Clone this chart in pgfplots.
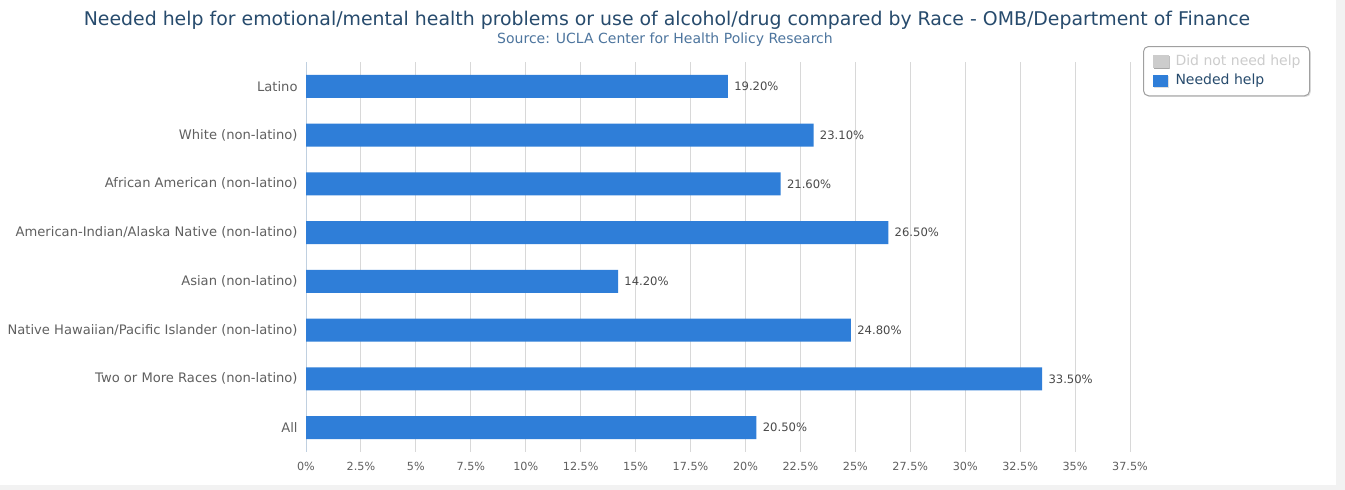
\documentclass[border=0pt]{standalone}
\usepackage{fontspec}
\setmainfont{DejaVu Sans}
\usepackage{pgfplots}
\pgfplotsset{compat=1.18}
\usetikzlibrary{shadows}
\definecolor{barblue}{HTML}{2F7ED8}
\definecolor{titlecol}{HTML}{274B6D}
\definecolor{subcol}{HTML}{4D759E}
\definecolor{labelcol}{HTML}{606060}
\definecolor{datacol}{HTML}{4A4A4A}
\definecolor{gridcol}{HTML}{D8D8D8}
\definecolor{axiscol}{HTML}{C0D0E0}
\definecolor{legcol}{HTML}{A0A0A0}
\definecolor{hiddencol}{HTML}{CCCCCC}
\definecolor{bggray}{HTML}{F2F2F2}
\begin{document}
\begin{tikzpicture}
\begin{scope}[x=0.5pt,y=-0.5pt]
\path[use as bounding box] (0,0) rectangle (1345,490);
\fill[white] (0,0) rectangle (1345,490);
\fill[bggray] (1336,0) rectangle (1345,490);
\fill[bggray] (0,485) rectangle (1345,490);
\node[font=\fontsize{9.45}{11}\selectfont, text=titlecol] at (667,20) {Needed help for emotional/mental health problems or use of alcohol/drug compared by Race - OMB/Department of Finance};
\node[font=\fontsize{7}{8}\selectfont, text=subcol] at (665,40) {Source: UCLA Center for Health Policy Research};
\end{scope}
\begin{axis}[
  at={(153pt,-226pt)}, anchor=south west,
  scale only axis, width=412pt, height=195pt,
  xbar, bar width=11.5pt,
  xmin=0, xmax=37.5, ymin=-0.5, ymax=7.5,
  y dir=reverse,
  ytick={0,...,7},
  yticklabels={Latino, White (non-latino), African American (non-latino), American-Indian/Alaska Native (non-latino), Asian (non-latino), Native Hawaiian/Pacific Islander (non-latino), Two or More Races (non-latino), All},
  ytick style={draw=none},
  extra y ticks={-0.5,0.5,1.5,2.5,3.5,4.5,5.5,6.5,7.5},
  extra y tick labels={},
  extra y tick style={major tick length=2.5pt, tick align=outside, tick style={draw=axiscol, line width=0.5pt}, grid=none},
  xtick={0,2.5,5,7.5,10,12.5,15,17.5,20,22.5,25,27.5,30,32.5,35,37.5},
  xticklabels={0\%,2.5\%,5\%,7.5\%,10\%,12.5\%,15\%,17.5\%,20\%,22.5\%,25\%,27.5\%,30\%,32.5\%,35\%,37.5\%},
  xtick style={draw=none},
  xmajorgrids, major grid style={draw=gridcol, line width=0.5pt},
  axis y line*=left, axis x line*=bottom,
  y axis line style={draw=axiscol, line width=0.5pt},
  x axis line style={draw=none},
  yticklabel style={font=\fontsize{6.55}{7}\selectfont, text=labelcol, inner sep=0pt, xshift=0.25pt},
  xticklabel style={font=\fontsize{5.6}{6}\selectfont, text=labelcol, inner sep=0pt, yshift=-5pt},
  nodes near coords={\pgfmathprintnumber[assume math mode=true,fixed,fixed zerofill,precision=2]{\pgfplotspointmeta}\%},
  nodes near coords style={font=\fontsize{5.8}{6}\selectfont, text=datacol, inner sep=0pt, xshift=3pt},
  legend style={at={(1.0158,1.041)}, anchor=north west, draw=legcol, line width=0.5pt, rounded corners=2.5pt, fill=white,
    drop shadow={shadow xshift=0.6pt, shadow yshift=-0.6pt, opacity=0.25},
    font=\fontsize{7}{8}\selectfont, inner xsep=3pt, inner ysep=2.5pt, row sep=0pt,
    nodes={inner sep=1.5pt}},
  legend cell align=left,
]
\addlegendimage{legend image code/.code={\fill[hiddencol, sharp corners] (1.5pt,-3pt) rectangle (9pt,3pt); \path (0pt,0pt) (11pt,0pt);}}
\addlegendentry{\textcolor{hiddencol}{Did not need help}}
\addplot[fill=barblue, draw=none, legend image code/.code={\fill[barblue, sharp corners] (1.5pt,-3pt) rectangle (9pt,3pt); \path (0pt,0pt) (11pt,0pt);}] coordinates {
(19.2,0) (23.1,1) (21.6,2) (26.5,3) (14.2,4) (24.8,5) (33.5,6) (20.5,7)};
\addlegendentry{\textcolor{titlecol}{Needed help}}
\end{axis}
\end{tikzpicture}
\end{document}
